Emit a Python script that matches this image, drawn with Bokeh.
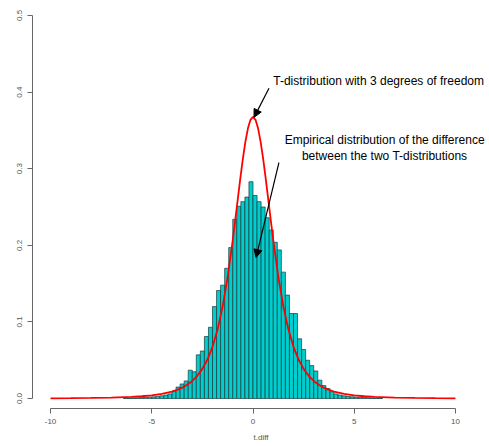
import numpy as np
from bokeh.plotting import figure
from bokeh.models import (ColumnDataSource, FixedTicker, PrintfTickFormatter,
                          Arrow, NormalHead, Range1d)
from bokeh.core.properties import value
from bokeh.embed import file_html
from bokeh.resources import INLINE

# ---- data ----
bin_width = 0.2
hist_start = -6.4
density = [
    0.0005, 0.0007, 0.0008, 0.0010, 0.0012, 0.0015, 0.0018, 0.0022,
    0.0028, 0.0035, 0.0045, 0.0060, 0.0100, 0.0150, 0.0190, 0.0230,
    0.0370, 0.0350, 0.0570, 0.0620, 0.0810, 0.0930, 0.1200, 0.1410,
    0.1480, 0.1700, 0.1970, 0.2340, 0.2510, 0.2570, 0.2630, 0.2830,
    0.2650, 0.2570, 0.2500, 0.2360, 0.2200, 0.2040, 0.1940, 0.1650,
    0.1350, 0.1110, 0.1110, 0.0780, 0.0640, 0.0500, 0.0430, 0.0360,
    0.0240, 0.0170, 0.0130, 0.0090, 0.0060, 0.0045, 0.0035, 0.0028,
    0.0022, 0.0018, 0.0015, 0.0012, 0.0010, 0.0008, 0.0007, 0.0005,
]

curve_x = [-10, -9, -8, -7, -6, -5.5, -5, -4.5, -4, -3.75, -3.5, -3.25, -3,
           -2.75, -2.5, -2.25, -2, -1.75, -1.5, -1.25, -1, -0.875, -0.75,
           -0.625, -0.5, -0.375, -0.25, -0.125, 0,
           0.125, 0.25, 0.375, 0.5, 0.625, 0.75, 0.875, 1, 1.25, 1.5, 1.75,
           2, 2.25, 2.5, 2.75, 3, 3.25, 3.5, 3.75, 4, 4.5, 5, 5.5, 6, 7, 8,
           9, 10]
curve_y = [0.00031, 0.00047, 0.00074, 0.00122, 0.00217, 0.00299, 0.00422,
           0.00612, 0.00916, 0.01136, 0.0142, 0.01798, 0.0230, 0.0297,
           0.0387, 0.0509, 0.0675, 0.0900, 0.1200, 0.1589, 0.2067, 0.2333,
           0.2607, 0.2877, 0.3132, 0.3354, 0.3527, 0.3638, 0.3676,
           0.3638, 0.3527, 0.3354, 0.3132, 0.2877, 0.2607, 0.2333, 0.2067,
           0.1589, 0.1200, 0.0900, 0.0675, 0.0509, 0.0387, 0.0297, 0.0230,
           0.01798, 0.0142, 0.01136, 0.00916, 0.00612, 0.00422, 0.00299,
           0.00217, 0.00122, 0.00074, 0.00047, 0.00031]

x_ticks = [-10, -5, 0, 5, 10]
y_ticks = [0.0, 0.1, 0.2, 0.3, 0.4, 0.5]

label1 = "T-distribution with 3 degrees of freedom"
label2 = ["Empirical distribution of the difference",
          "between the two T-distributions"]
x_title = "t.diff"

# ---- figure ----
FONT = "Liberation Sans"
p = figure(width=489, height=444, output_backend="svg", toolbar_location=None,
           x_range=Range1d(-10.89, 11.68), y_range=Range1d(-0.013, 0.5065),
           min_border_left=32, min_border_right=0, min_border_top=10,
           min_border_bottom=36)
p.outline_line_color = None
p.grid.visible = False
p.background_fill_color = "white"

lefts = hist_start + bin_width * np.arange(len(density))
src = ColumnDataSource(dict(left=lefts, right=lefts + bin_width,
                            top=density, bottom=[0] * len(density)))
p.quad(left="left", right="right", top="top", bottom="bottom", source=src,
       fill_color="#00CDCD", line_color="#1c3a3a", line_width=0.7)

p.line(curve_x, curve_y, line_color="#FF0000", line_width=1.8)

# annotations
p.text(x=[1.0], y=[0.414], text=[label1], text_font=value(FONT),
       text_font_size="12px", text_baseline="middle", text_align="left",
       text_color="black")
p.text(x=[6.5, 6.5], y=[0.337, 0.317], text=label2, text_font=value(FONT),
       text_font_size="12px", text_baseline="middle", text_align="center",
       text_color="black")
p.add_layout(Arrow(end=NormalHead(size=8, fill_color="black", line_color="black"),
                   x_start=0.79, y_start=0.405, x_end=0.05, y_end=0.367,
                   line_color="black", line_width=1.2))
p.add_layout(Arrow(end=NormalHead(size=8, fill_color="black", line_color="black"),
                   x_start=1.28, y_start=0.308, x_end=0.15, y_end=0.184,
                   line_color="black", line_width=1.2))

# axes
for ax in (p.xaxis[0], p.yaxis[0]):
    ax.axis_line_color = "#666666"
    ax.major_tick_line_color = "#666666"
    ax.minor_tick_line_color = None
    ax.major_tick_out = 5
    ax.major_tick_in = 0
    ax.major_label_text_font = FONT
    ax.major_label_text_font_size = "8px"
    ax.major_label_text_color = "#555555"
    ax.axis_line_width = 1

p.xaxis.ticker = FixedTicker(ticks=x_ticks)
p.xaxis.formatter = PrintfTickFormatter(format="%d")
p.xaxis.bounds = (-10, 10)
p.xaxis.axis_label = x_title
p.xaxis.axis_label_text_font = FONT
p.xaxis.axis_label_text_font_size = "8px"
p.xaxis.axis_label_text_font_style = "normal"
p.xaxis.axis_label_text_color = "#555555"
p.xaxis.axis_label_standoff = 6

p.yaxis.ticker = FixedTicker(ticks=y_ticks)
p.yaxis.formatter = PrintfTickFormatter(format="%.1f")
p.yaxis.bounds = (0, 0.5)
p.yaxis.major_label_orientation = "vertical"

open("out.html", "w").write(file_html(p, INLINE))
